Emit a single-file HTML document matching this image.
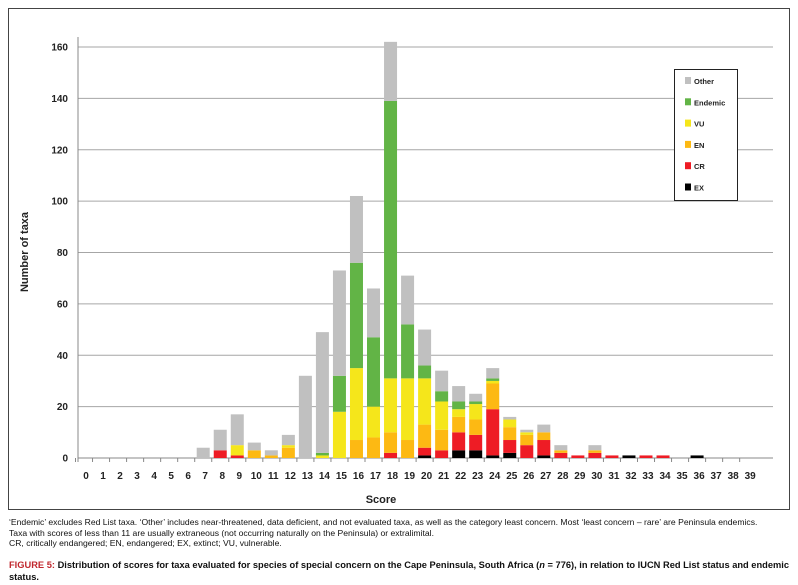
<!DOCTYPE html>
<html><head><meta charset="utf-8"><style>
body{margin:0;background:#fff;font-family:"Liberation Sans",sans-serif;}
#wrap{position:relative;width:798px;height:585px;overflow:hidden}
.cap{position:absolute;left:9px;width:782px;font-size:8.6px;color:#111;line-height:10.5px}
</style></head><body>
<div id="wrap">
<svg id="chart" width="798" height="510" style="position:absolute;left:0;top:0"></svg>
<div class="cap" style="top:517px">‘Endemic’ excludes Red List taxa. ‘Other’ includes near-threatened, data deficient, and not evaluated taxa, as well as the category least concern. Most ‘least concern – rare’ are Peninsula endemics.<br>Taxa with scores of less than 11 are usually extraneous (not occurring naturally on the Peninsula) or extralimital.<br>CR, critically endangered; EN, endangered; EX, extinct; VU, vulnerable.</div>
<div class="cap" style="top:559px;font-size:9.3px;line-height:12px"><b style="color:#c0272d">FIGURE 5:</b> <b>Distribution of scores for taxa evaluated for species of special concern on the Cape Peninsula, South Africa (<i>n</i> = 776), in relation to IUCN Red List status and endemic status.</b></div>
</div>
<script>
const categories=[0,1,2,3,4,5,6,7,8,9,10,11,12,13,14,15,16,17,18,19,20,21,22,23,24,25,26,27,28,29,30,31,32,33,34,35,36,37,38,39];
const exVals=  [0,0,0,0,0,0,0,0,0,0,0,0,0,0,0,0,0,0,0,0,1,0,3,3,1,2,0,1,0,0,0,0,1,0,0,0,1,0,0,0];
const crVals=  [0,0,0,0,0,0,0,0,3,1,0,0,0,0,0,0,0,0,2,0,3,3,7,6,18,5,5,6,2,1,2,1,0,1,1,0,0,0,0,0];
const enVals=  [0,0,0,0,0,0,0,0,0,0,3,1,4,0,0,0,7,8,8,7,9,8,6,6,10,5,4,3,1,0,1,0,0,0,0,0,0,0,0,0];
const vuVals=  [0,0,0,0,0,0,0,0,0,4,0,0,1,0,1,18,28,12,21,24,18,11,3,6,1,3,1,0,0,0,0,0,0,0,0,0,0,0,0,0];
const endVals= [0,0,0,0,0,0,0,0,0,0,0,0,0,0,1,14,41,27,108,21,5,4,3,1,1,0,0,0,0,0,0,0,0,0,0,0,0,0,0,0];
const otherVals=[0,0,0,0,0,0,0,4,8,12,3,2,4,32,47,41,26,19,23,19,14,8,6,3,4,1,1,3,2,0,2,0,0,0,0,0,0,0,0,0];
const yTicks=[0,20,40,60,80,100,120,140,160];
const seriesNames=["EX","CR","EN","VU","Endemic","Other"];
const seriesColors=["#000000","#ee1c25","#fdb913","#f5e61b","#62b446","#c0c0c0"];
const series=[exVals,crVals,enVals,vuVals,endVals,otherVals];

const svg=document.getElementById('chart');const NS='http://www.w3.org/2000/svg';
function mk(t,a,p){const e=document.createElementNS(NS,t);for(const k in a)e.setAttribute(k,a[k]);(p||svg).appendChild(e);return e;}
const L=78,R=773,Y0=458,Y1=47,yMax=160;
const y=v=>Y0-(v/yMax)*(Y0-Y1);
const step=17.03;
const cx=i=>86+step*i;
const bw=13;
const frame=mk('rect',{x:8.5,y:8.5,width:781,height:501,fill:'none',stroke:'#444','stroke-width':1});


yTicks.forEach(t=>{
 const g=mk('line',{x1:L,x2:R,y1:y(t),y2:y(t),stroke:t===0?'#888':'#a6a6a6','stroke-width':1});
 
 
 const tx=mk('text',{x:L-10,y:y(t)+3.5,'text-anchor':'end','font-size':10,'font-weight':'bold',fill:'#222'});
 tx.textContent=t;
 
 
});
mk('line',{x1:L,x2:L,y1:Y1-10,y2:Y0+4,stroke:'#888'});
categories.forEach((c,i)=>{
 const tk=mk('line',{x1:cx(i)-10.5,x2:cx(i)-10.5,y1:Y0,y2:Y0+4,stroke:'#888'});
 
 
 const tx=mk('text',{x:cx(i),y:Y0+21,'text-anchor':'middle','font-size':10,'font-weight':'bold',fill:'#222'});
 tx.textContent=c;
 
 
 let acc=0;
 series.forEach((s,k)=>{
  const v=s[i]; if(!v)return;
  const r=mk('rect',{x:cx(i)-8.5,y:y(acc+v),width:bw,height:y(acc)-y(acc+v),fill:seriesColors[k]});
  
  
  acc+=v;
 });
});
const xt=mk('text',{x:381,y:503,'text-anchor':'middle','font-size':11,'font-weight':'bold',fill:'#222'});
xt.textContent='Score';


const yt=mk('text',{x:0,y:0,transform:'translate(28,252) rotate(-90)','text-anchor':'middle','font-size':11,'font-weight':'bold',fill:'#222'});
yt.textContent='Number of taxa';


const lg=mk('g',{});


mk('rect',{x:674.5,y:69.5,width:63,height:131,fill:'#fff',stroke:'#222'},lg);
for(let k=5;k>=0;k--){
 const row=5-k, yy=81+row*21.3;
 const e=mk('g',{},lg);
 
 
 mk('rect',{x:685,y:yy-4,width:6,height:7,fill:seriesColors[k]},e);
 const t=mk('text',{x:694,y:yy+3,'font-size':7.5,'font-weight':'bold',fill:'#222'},e);
 t.textContent=seriesNames[k];
}
</script>
</body></html>
